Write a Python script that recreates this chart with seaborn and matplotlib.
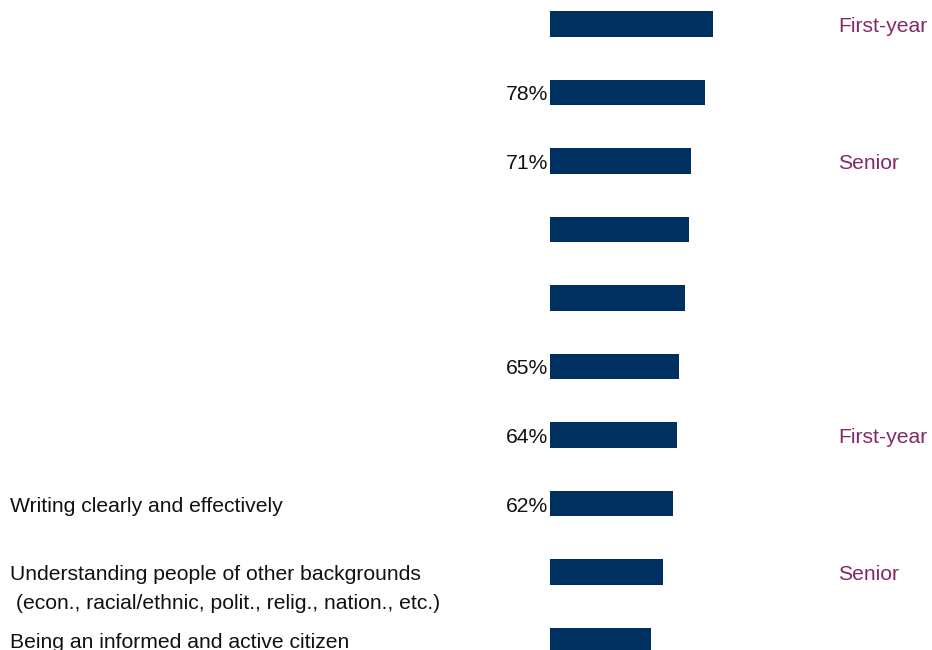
import pandas as pd
import matplotlib.pyplot as plt
import seaborn as sns

# values (percent of students), top to bottom
rows = list(range(10))
values = [82, 78, 71, 70, 68, 65, 64, 62, 57, 51]
pct_labels = ["", "78%", "71%", "", "", "65%", "64%", "62%", "", ""]
item_labels = ["", "", "", "", "", "", "",
               "Writing clearly and effectively",
               "Understanding people of other backgrounds",
               "Being an informed and active citizen"]
item_sublabels = ["", "", "", "", "", "", "", "",
                  "(econ., racial/ethnic, polit., relig., nation., etc.)", ""]
group_labels = ["First-year", "", "Senior", "", "", "", "First-year", "", "Senior", ""]

df = pd.DataFrame({"row": rows, "value": values})

sns.set_style("white")
plt.rcParams['font.family'] = ['Liberation Sans', 'DejaVu Sans']

W, H = 932, 650
fig = plt.figure(figsize=(W / 100, H / 100), dpi=100)
ax = fig.add_axes([0, 0, 1, 1])

sns.barplot(data=df, x="value", y="row", orient="h", color="#00305F",
            width=0.365, linewidth=0, saturation=1, ax=ax)

# map data to pixels: x=0 at 550px, ~1.985px per percent; rows every 68.5px from 24px
px_per = 1.985
x0 = 550
step = 68.5
ax.set_xlim(-x0 / px_per, (W - x0) / px_per)
ax.set_ylim((H - 24) / step, -24 / step)
ax.axis("off")

fs = 15.2
dy = 2.5 / step  # text sits a touch below bar centre
for i in rows:
    y = i + dy
    if pct_labels[i]:
        ax.text(-1, y, pct_labels[i], ha="right", va="center", fontsize=fs, color="#111111")
    if group_labels[i]:
        ax.text((838 - x0) / px_per, y, group_labels[i], ha="left", va="center",
                fontsize=fs, color="#85286A")
    if item_labels[i]:
        ax.text(-(x0 - 10) / px_per, y, item_labels[i], ha="left", va="center",
                fontsize=fs, color="#111111")
    if item_sublabels[i]:
        ax.text(-(x0 - 16) / px_per, y + 29 / step, item_sublabels[i], ha="left",
                va="center", fontsize=fs, color="#111111")

fig.savefig("out.png", dpi=100, facecolor="white")
